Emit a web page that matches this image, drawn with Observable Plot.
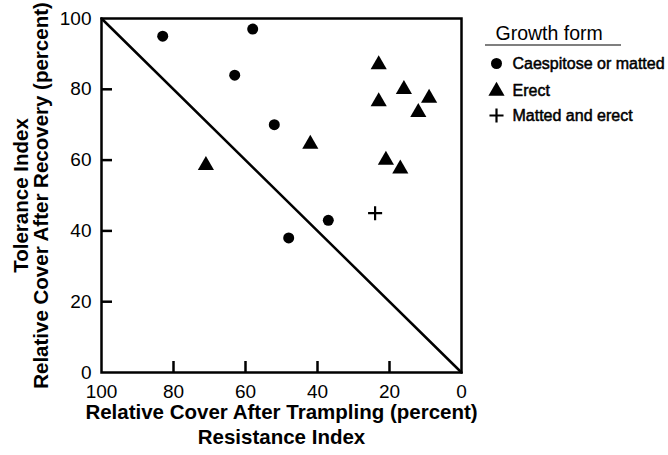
<!DOCTYPE html>
<html>
<head>
<meta charset="utf-8">
<script src="https://cdn.jsdelivr.net/npm/d3@7"></script>
<script src="https://cdn.jsdelivr.net/npm/@observablehq/plot@0.6"></script>
<style>
  html, body { margin: 0; padding: 0; background: #fff; }
</style>
</head>
<body>
<div id="chart"></div>
<script>
// ---- data ----
const caespitoseX = [83, 58, 63, 52, 37, 48];
const caespitoseY = [95, 97, 84, 70, 43, 38];
const erectX = [71, 42, 23, 16, 23, 9, 12, 21, 17];
const erectY = [58.5, 64.5, 87, 80, 76.5, 77.5, 73.5, 60, 57.5];
const mattedErectX = [24];
const mattedErectY = [45];
const diagonalX = [100, 0];
const diagonalY = [100, 0];
const axisTicks = [0, 20, 40, 60, 80, 100];
const innerTicks = [20, 40, 60, 80];
const legendTitle = "Growth form";
const legendLabels = ["Caespitose or matted", "Erect", "Matted and erect"];
const legendSymbols = ["circle", "triangle", "plus"];
const xTitle = ["Relative Cover After Trampling (percent)", "Resistance Index"];
const yTitle = ["Tolerance Index", "Relative Cover After Recovery (percent)"];

const toPoints = (xs, ys) => xs.map((x, i) => ({x, y: ys[i]}));
const caespitose = toPoints(caespitoseX, caespitoseY);
const erect = toPoints(erectX, erectY);
const mattedErect = toPoints(mattedErectX, mattedErectY);
const diagonal = toPoints(diagonalX, diagonalY);

const legendRowDy = [45, 72.5, 97];
const symbolStyle = {
  circle: {r: 5.5, fill: "black"},
  triangle: {r: 6, fill: "black"},
  plus: {r: 4.6, stroke: "black", strokeWidth: 2.2, fill: "none"}
};
const inkText = {fill: "black", stroke: "black", strokeWidth: 0.5};
const titleText = {fontSize: 20.5, fontWeight: "bold", fill: "black", textAnchor: "middle", lineAnchor: "middle"};

const chart = Plot.plot({
  width: 668,
  height: 455,
  marginLeft: 101,
  marginRight: 207,
  marginTop: 18,
  marginBottom: 83,
  style: {fontFamily: "'Liberation Sans', Arial, Helvetica, sans-serif", background: "#fff", color: "#000"},
  x: {domain: [100, 0], label: null},
  y: {domain: [0, 100], label: null},
  marks: [
    Plot.frame({stroke: "black", strokeWidth: 2.5}),
    Plot.axisX({ticks: axisTicks, tickSize: 0, tickPadding: 12, fontSize: 19, label: null, ...inkText}),
    Plot.axisX({ticks: innerTicks, tickSize: 11, insetBottom: 11, text: null, strokeWidth: 2.5, label: null, stroke: "black"}),
    Plot.axisY({ticks: axisTicks, tickSize: 0, tickPadding: 10, fontSize: 19, label: null, ...inkText}),
    Plot.axisY({ticks: innerTicks, tickSize: 11, insetLeft: 11, text: null, strokeWidth: 2.5, label: null, stroke: "black"}),
    Plot.line(diagonal, {x: "x", y: "y", stroke: "black", strokeWidth: 2.5}),
    Plot.dot(caespitose, {x: "x", y: "y", symbol: "circle", ...symbolStyle.circle}),
    Plot.dot(erect, {x: "x", y: "y", symbol: "triangle", ...symbolStyle.triangle}),
    Plot.dot(mattedErect, {x: "x", y: "y", symbol: "plus", ...symbolStyle.plus}),
    // axis titles
    Plot.text([xTitle[0]], {frameAnchor: "bottom", dy: 40, ...titleText}),
    Plot.text([xTitle[1]], {frameAnchor: "bottom", dy: 65, ...titleText}),
    Plot.text([yTitle[0]], {frameAnchor: "left", dx: -80.5, rotate: -90, ...titleText}),
    Plot.text([yTitle[1]], {frameAnchor: "left", dx: -60, rotate: -90, ...titleText}),
    // legend
    Plot.text([legendTitle], {frameAnchor: "top-right", dx: 34, dy: 15.5, textAnchor: "start", lineAnchor: "middle", fontSize: 19.5, fill: "black"}),
    ...legendLabels.map((label, i) => Plot.dot([label], {
      frameAnchor: "top-right", dx: 35, dy: legendRowDy[i], symbol: legendSymbols[i], ...symbolStyle[legendSymbols[i]]
    })),
    ...legendLabels.map((label, i) => Plot.text([label], {
      frameAnchor: "top-right", dx: 51, dy: legendRowDy[i], textAnchor: "start", lineAnchor: "middle", fontSize: 16, ...inkText
    }))
  ]
});

// underline of legend title
d3.select(chart).append("line")
  .attr("x1", 485).attr("x2", 621).attr("y1", 45).attr("y2", 45)
  .attr("stroke", "black").attr("stroke-width", 1.2);

document.getElementById("chart").appendChild(chart);
</script>
</body>
</html>
